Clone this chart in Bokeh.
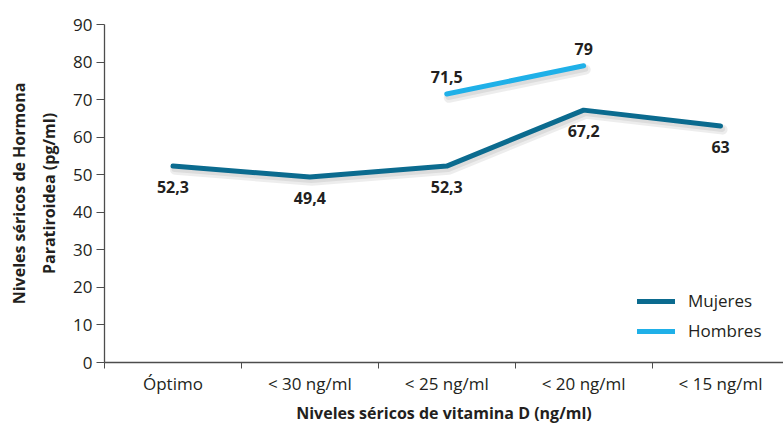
import math
from bokeh.plotting import figure
from bokeh.models import (ColumnDataSource, Range1d, FixedTicker, Legend, LegendItem)
from bokeh.transform import dodge
from bokeh.core.properties import value
from bokeh.embed import file_html
from bokeh.resources import INLINE

# ---- data ----
categories = ["Óptimo", "< 30 ng/ml", "< 25 ng/ml", "< 20 ng/ml", "< 15 ng/ml"]
mujeres = [52.3, 49.4, 52.3, 67.2, 63]
hombres = [math.nan, math.nan, 71.5, 79, math.nan]
y_ticks = [0, 10, 20, 30, 40, 50, 60, 70, 80, 90]

FONT = "Open Sans"
DARK = "#231f20"
C_MUJ = "#0b6b8f"
C_HOM = "#1fb0e8"

xs = [i + 0.5 for i in range(len(categories))]

def fmt(v):
    return f"{v:g}".replace(".", ",")

p = figure(width=783, height=426, output_backend="svg", toolbar_location=None,
           x_range=Range1d(0, 4.96), y_range=Range1d(0, 90),
           min_border_left=104, min_border_right=0, min_border_top=24, min_border_bottom=64)
p.outline_line_color = None
p.xgrid.visible = False
p.ygrid.visible = False
p.background_fill_color = "white"
p.border_fill_color = "white"

src_m = ColumnDataSource(dict(x=xs, y=mujeres))
src_h = ColumnDataSource(dict(x=xs, y=hombres))

# soft shadows
for src in (src_m, src_h):
    p.line(x=dodge("x", 0.015, range=p.x_range), y=dodge("y", -1.0, range=p.y_range),
           source=src, line_color="black", line_alpha=0.07, line_width=10, line_cap="round")
    p.line(x=dodge("x", 0.012, range=p.x_range), y=dodge("y", -0.8, range=p.y_range),
           source=src, line_color="black", line_alpha=0.07, line_width=6, line_cap="round")

r_m = p.line("x", "y", source=src_m, line_color=C_MUJ, line_width=5, line_cap="round", line_join="round")
r_h = p.line("x", "y", source=src_h, line_color=C_HOM, line_width=5, line_cap="round", line_join="round")

# labels
lab_m = ColumnDataSource(dict(x=xs, y=mujeres, t=[fmt(v) for v in mujeres]))
hx = [x for x, v in zip(xs, hombres) if not math.isnan(v)]
hy = [v for v in hombres if not math.isnan(v)]
lab_h = ColumnDataSource(dict(x=hx, y=hy, t=[fmt(v) for v in hy]))
p.text("x", "y", text="t", source=lab_m, text_font=value(FONT), text_font_style="bold",
       text_font_size="16px", text_color=DARK, text_align="center", text_baseline="middle",
       y_offset=21)
p.text("x", "y", text="t", source=lab_h, text_font=value(FONT), text_font_style="bold",
       text_font_size="16px", text_color=DARK, text_align="center", text_baseline="middle",
       y_offset=-17)

# axes
AX = "#4d4d4d"
xa = p.xaxis[0]
xa.ticker = FixedTicker(ticks=xs, minor_ticks=list(range(len(categories) + 1)))
xa.major_label_overrides = {x: c for x, c in zip(xs, categories)}
xa.major_tick_out = 0
xa.major_tick_in = 0
xa.minor_tick_out = 6
xa.minor_tick_in = 0
xa.minor_tick_line_color = AX
xa.axis_line_color = AX
xa.axis_line_width = 1.3
xa.major_label_text_font = FONT
xa.major_label_text_font_size = "17px"
xa.major_label_text_color = DARK
xa.major_label_standoff = 3
xa.axis_label = "Niveles séricos de vitamina D (ng/ml)"
xa.axis_label_text_font = FONT
xa.axis_label_text_font_style = "bold"
xa.axis_label_text_font_size = "16px"
xa.axis_label_text_color = DARK
xa.axis_label_standoff = 4

ya = p.yaxis[0]
ya.ticker = FixedTicker(ticks=y_ticks)
ya.major_tick_out = 8
ya.major_tick_in = 0
ya.minor_tick_out = 0
ya.minor_tick_in = 0
ya.major_tick_line_color = AX
ya.axis_line_color = AX
ya.axis_line_width = 1.3
ya.major_label_text_font = FONT
ya.major_label_text_font_size = "17px"
ya.major_label_text_color = DARK
ya.major_label_standoff = 4
ya.axis_label = "Niveles séricos de Hormona\nParatiroidea (pg/ml)"
ya.axis_label_text_font = FONT
ya.axis_label_text_font_style = "bold"
ya.axis_label_text_font_size = "16px"
ya.axis_label_text_color = DARK
ya.axis_label_text_line_height = 1.35
ya.axis_label_standoff = 10

legend = Legend(items=[LegendItem(label="Mujeres", renderers=[r_m]),
                       LegendItem(label="Hombres", renderers=[r_h])],
                location=(533, 20), padding=0, margin=0, spacing=7,
                glyph_width=38, glyph_height=20, label_height=20, label_standoff=13,
                border_line_color=None, background_fill_alpha=0,
                label_text_font=FONT, label_text_font_size="17px", label_text_color=DARK)
p.add_layout(legend, "center")

open("out.html", "w").write(file_html(p, INLINE))
